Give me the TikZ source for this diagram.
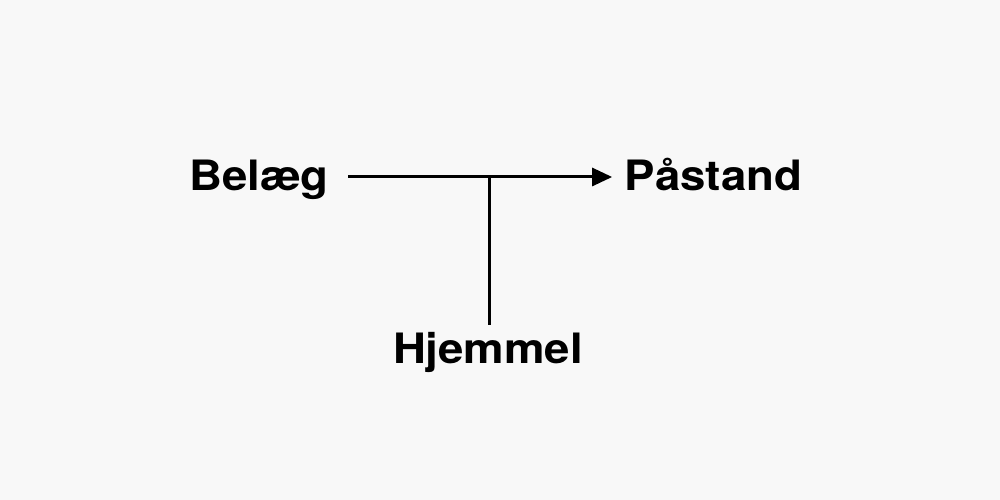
\documentclass[tikz,border=0pt]{standalone}
\usepackage{fontspec}
\setmainfont{TeX Gyre Heros}[FakeStretch=1.09]
\usepackage{tikz}
\usepackage{xcolor}
\usetikzlibrary{calc}
\usetikzlibrary{positioning}
\usetikzlibrary{arrows.meta}

\definecolor{paper}{HTML}{F8F8F8}

\tikzset{
	term/.style={font=\fontsize{11.9}{13}\selectfont\bfseries, text height=0.75em, text depth=0.2em, inner sep=0.12cm},
	link/.style={black, line width=0.03cm}
}

\begin{document}
\begin{tikzpicture}
\fill[paper] (0,0) rectangle (10,5);
\useasboundingbox (0,0) rectangle (10,5);

\node[term] (belaeg) at (2.59,3.19) {Belæg};
\node[term] (paastand) at (7.135,3.19) {Påstand};
\node[term] (hjemmel) at (4.88,1.46) {Hjemmel};
\coordinate (fork) at (4.89,3.23);

\draw[link,shorten <=0.07cm,-{Triangle[length=0.2cm,width=0.18cm]}] (belaeg.east |- fork) -- (paastand.west |- fork);
\draw[link] (fork) -- (fork |- hjemmel.north);
\end{tikzpicture}
\end{document}
